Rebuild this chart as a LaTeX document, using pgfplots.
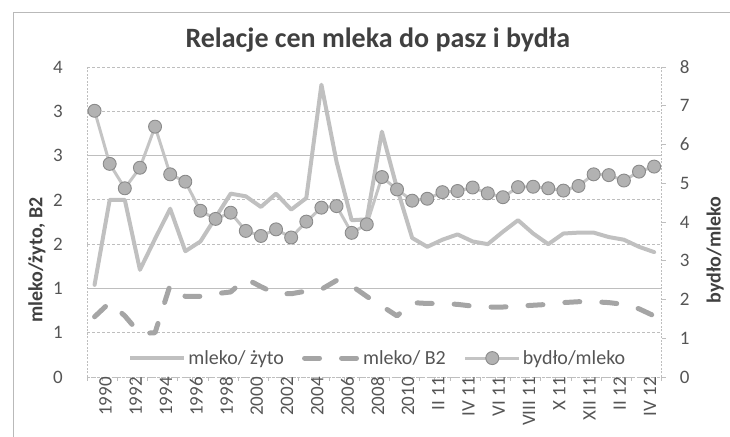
\documentclass[border=0pt]{standalone}
\usepackage{pgfplots}
\usepackage{pgfplotstable}
\pgfplotsset{compat=1.18}
\usepackage{fontspec}
\setmainfont{Carlito}
\definecolor{zytoC}{RGB}{192,192,192}
\definecolor{btwoC}{RGB}{165,165,165}
\definecolor{bydC}{RGB}{196,196,196}
\definecolor{mfill}{RGB}{178,178,178}
\definecolor{medge}{RGB}{138,138,138}
\definecolor{gridC}{RGB}{190,190,190}
\definecolor{txtC}{RGB}{85,85,85}
\definecolor{titC}{RGB}{64,64,64}

\pgfplotstableread{
i z b c
0 1.04 0.68 6.87
1 2.00 0.84 5.50
2 2.00 0.69 4.87
3 1.21 0.49 5.40
4 1.56 0.50 6.46
5 1.90 1.04 5.23
6 1.42 0.91 5.04
7 1.53 0.91 4.29
8 1.80 0.94 4.08
9 2.07 0.96 4.24
10 2.04 1.11 3.77
11 1.92 1.02 3.64
12 2.07 0.94 3.81
13 1.89 0.94 3.60
14 2.02 0.97 4.01
15 3.30 0.99 4.37
16 2.43 1.09 4.41
17 1.77 1.03 3.72
18 1.78 0.91 3.94
19 2.77 0.80 5.16
20 2.13 0.69 4.84
21 1.57 0.84 4.55
22 1.47 0.83 4.60
23 1.55 0.83 4.77
24 1.61 0.82 4.80
25 1.53 0.80 4.89
26 1.50 0.79 4.74
27 1.64 0.79 4.64
28 1.77 0.80 4.90
29 1.62 0.81 4.91
30 1.50 0.82 4.87
31 1.62 0.84 4.81
32 1.63 0.85 4.93
33 1.63 0.85 5.23
34 1.58 0.84 5.21
35 1.55 0.82 5.07
36 1.47 0.77 5.30
37 1.41 0.69 5.43
}\data

\begin{document}
\begin{tikzpicture}[x=1pt,y=1pt]
\path[use as bounding box] (0,0) rectangle (730,436);
\draw[gray!55, line width=0.8pt] (13,-5) -- (13,424) -- (735,424);
\begin{axis}[
  at={(87pt,59pt)}, anchor=south west,
  scale only axis, width=574.7pt, height=310pt,
  xmin=-0.5, xmax=37.5, ymin=0, ymax=3.5,
  axis y line*=left, axis x line*=bottom,
  axis line style={draw=gridC, line width=0.8pt, dash pattern=on 2pt off 1.5pt},
  ytick={0,0.5,1,1.5,2,2.5,3,3.5},
  yticklabels={0,1,1,2,2,3,3,4},
  extra y ticks={1,2.5}, extra y tick labels={},
  extra y tick style={major grid style={solid, draw=gridC, line width=0.8pt}},
  ymajorgrids,
  major grid style={draw=gridC, line width=0.8pt, dash pattern=on 3pt off 2pt},
  xtick={0,2,...,36},
  xticklabels={1990,1992,1994,1996,1998,2000,2002,2004,2006,2008,2010,II 11,IV 11,VI 11,VIII 11,X 11,XII 11,II 12,IV 12},
  minor xtick={-0.5,0.5,...,37.5},
  tick align=outside,
  major tick length=0pt, minor tick length=4pt,
  x tick style={draw=gridC, line width=0.8pt, solid},
  y tick style={draw=none},
  x tick label style={rotate=90, anchor=east, inner sep=0pt, yshift=-11pt, font=\fontsize{19}{20}\selectfont, text=txtC},
  y tick label style={anchor=east, inner sep=0pt, xshift=-24pt, font=\fontsize{19}{20}\selectfont, text=txtC},
  ylabel={mleko/żyto, B2},
  ylabel style={at={(axis description cs:-0.087,0.377)}, anchor=center, font=\bfseries\fontsize{20}{22}\selectfont, text=titC},
  title={Relacje cen mleka do pasz i bydła},
  title style={at={(axis description cs:0.506,1.042)}, anchor=base, font=\bfseries\fontsize{28}{30}\selectfont, text=titC},
  clip=false,
]
\addplot[zytoC, line width=4pt, line join=round, line cap=round] table[x=i, y=z] {\data};
\addplot[btwoC, line width=5pt, dash pattern=on 15pt off 22pt, line cap=round, line join=round] table[x=i, y=b] {\data};
\end{axis}
\begin{axis}[
  at={(87pt,59pt)}, anchor=south west,
  scale only axis, width=574.7pt, height=310pt,
  xmin=-0.5, xmax=37.5, ymin=0, ymax=8,
  axis y line*=right, axis x line=none,
  axis line style={draw=gridC, line width=0.8pt, dash pattern=on 2pt off 1.5pt},
  ytick={0,1,2,3,4,5,6,7,8},
  tick align=outside, major tick length=4pt,
  y tick style={draw=gridC, line width=0.8pt, solid},
  y tick label style={anchor=west, inner sep=0pt, xshift=14pt, font=\fontsize{19}{20}\selectfont, text=txtC},
  /pgf/number format/assume math mode=true,
  ylabel={bydło/mleko},
  ylabel style={at={(axis description cs:1.093,0.41)}, anchor=center, rotate=0, font=\bfseries\fontsize{20}{22}\selectfont, text=titC},
  legend columns=3,
  legend style={at={(axis description cs:0.506,0.061)}, anchor=center, draw=none, fill=none,
    font=\fontsize{20}{22}\selectfont, text=txtC,
    /tikz/every even column/.append style={column sep=16pt},
    inner sep=0pt},
  legend image code/.code={\draw[mark repeat=2,mark phase=2,#1] plot coordinates {(0pt,0pt) (27pt,0pt) (54pt,0pt)};},
  clip=false,
]
\addlegendimage{zytoC, line width=4pt}
\addlegendentry{mleko/ żyto}
\addlegendimage{btwoC, line width=5pt, dash pattern=on 15pt off 22pt, line cap=round}
\addlegendentry{mleko/ B2}
\addplot[bydC, line width=3pt, line join=round, mark=*, mark size=6.5pt,
  mark options={solid, fill=mfill, draw=medge, line width=0.9pt}] table[x=i, y=c] {\data};
\addlegendentry{bydło/mleko}
\end{axis}
\end{tikzpicture}
\end{document}
